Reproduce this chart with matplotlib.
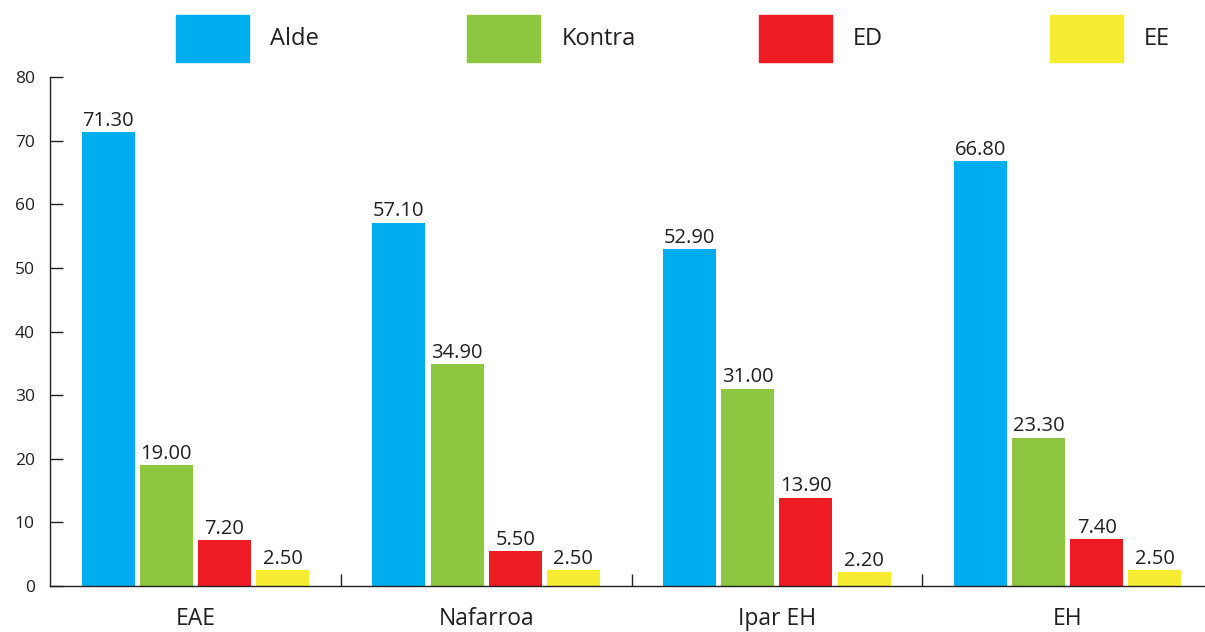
import numpy as np
import matplotlib.pyplot as plt
from matplotlib.patches import Rectangle

plt.rcParams['font.family'] = ['Open Sans', 'DejaVu Sans']

# Data
regions = ["EAE", "Nafarroa", "Ipar EH", "EH"]
series = ["Alde", "Kontra", "ED", "EE"]
alde = [71.30, 57.10, 52.90, 66.80]
kontra = [19.00, 34.90, 31.00, 23.30]
ed = [7.20, 5.50, 13.90, 7.40]
ee = [2.50, 2.50, 2.20, 2.50]
values = [alde, kontra, ed, ee]
colors = ["#00AEEF", "#8DC63F", "#ED1C24", "#F7EC31"]
yticks = [0, 10, 20, 30, 40, 50, 60, 70, 80]

W, H = 1205, 632
fig = plt.figure(figsize=(W / 100, H / 100), dpi=100)
# axes: left spine at x=50px, zero line at y=586px, top (80) at y=77px
ax = fig.add_axes([50 / W, 46 / H, 1163 / W, 509 / H])

txt = "#231F20"
x = np.arange(len(regions))
step, width = 0.2, 0.182
for i, (name, vals, col) in enumerate(zip(series, values, colors)):
    pos = x + (i - 1.5) * step
    ax.bar(pos, vals, width=width, color=col, label=name, zorder=2)
    for px, v in zip(pos, vals):
        ax.annotate(f"{v:.2f}", (px, v), xytext=(0, 1), textcoords="offset points",
                    ha="center", va="bottom", fontsize=14.5, color=txt)

ax.set_xlim(-0.5, len(regions) - 0.5)
ax.set_ylim(0, 80)
ax.set_yticks(yticks)
ax.set_yticklabels([str(t) for t in yticks], fontsize=12.5, color=txt)
ax.tick_params(axis="y", direction="in", length=9, width=1, pad=11, color=txt)

# group separators as major ticks, category labels as minor ticks
ax.set_xticks(x[:-1] + 0.5)
ax.set_xticklabels([])
ax.tick_params(axis="x", which="major", direction="in", length=9, width=1, color=txt)
ax.set_xticks(x, minor=True)
ax.set_xticklabels(regions, minor=True, fontsize=16.5, color=txt)
ax.tick_params(axis="x", which="minor", length=0, pad=15)

for s in ["top", "right"]:
    ax.spines[s].set_visible(False)
for s in ["left", "bottom"]:
    ax.spines[s].set_color(txt)
    ax.spines[s].set_linewidth(1)

# legend drawn as large swatches across the top
for i, (name, col) in enumerate(zip(series, colors)):
    x0 = 176 + i * 291.3
    fig.patches.append(Rectangle((x0 / W, 1 - 62 / H), 73 / W, 47 / H,
                                 transform=fig.transFigure, color=col))
    fig.text((x0 + 94) / W, 1 - 39 / H, name, fontsize=17, color=txt,
             ha="left", va="center")

fig.savefig("out.png", dpi=100)
